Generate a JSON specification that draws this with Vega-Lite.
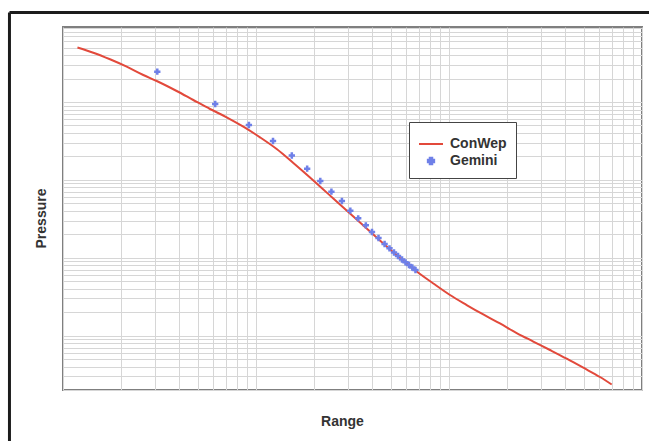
{
  "$schema": "https://vega.github.io/schema/vega-lite/v6.json",
  "width": 579,
  "height": 363,
  "autosize": {"type": "none"},
  "padding": {"left": 63, "top": 27, "right": 7, "bottom": 51},
  "background": "white",
  "datasets": {
    "conwep": [
      {"series": "ConWep", "range": 1.188, "pressure": 5018},
      {"series": "ConWep", "range": 1.436, "pressure": 4303},
      {"series": "ConWep", "range": 1.752, "pressure": 3540},
      {"series": "ConWep", "range": 2.138, "pressure": 2844},
      {"series": "ConWep", "range": 2.607, "pressure": 2224},
      {"series": "ConWep", "range": 3.059, "pressure": 1862},
      {"series": "ConWep", "range": 3.882, "pressure": 1386},
      {"series": "ConWep", "range": 4.733, "pressure": 1062},
      {"series": "ConWep", "range": 5.777, "pressure": 814},
      {"series": "ConWep", "range": 7.048, "pressure": 637},
      {"series": "ConWep", "range": 8.597, "pressure": 482},
      {"series": "ConWep", "range": 10.49, "pressure": 352},
      {"series": "ConWep", "range": 12.8, "pressure": 249},
      {"series": "ConWep", "range": 15.61, "pressure": 164.8},
      {"series": "ConWep", "range": 19.05, "pressure": 107.3},
      {"series": "ConWep", "range": 21.46, "pressure": 82.2},
      {"series": "ConWep", "range": 25.15, "pressure": 57.7},
      {"series": "ConWep", "range": 30.69, "pressure": 37.0},
      {"series": "ConWep", "range": 37.46, "pressure": 23.74},
      {"series": "ConWep", "range": 45.66, "pressure": 15.23},
      {"series": "ConWep", "range": 55.72, "pressure": 9.92},
      {"series": "ConWep", "range": 68.02, "pressure": 6.66},
      {"series": "ConWep", "range": 82.94, "pressure": 4.67},
      {"series": "ConWep", "range": 101.2, "pressure": 3.32},
      {"series": "ConWep", "range": 123.5, "pressure": 2.47},
      {"series": "ConWep", "range": 150.5, "pressure": 1.866},
      {"series": "ConWep", "range": 183.7, "pressure": 1.43},
      {"series": "ConWep", "range": 224.3, "pressure": 1.079},
      {"series": "ConWep", "range": 273.4, "pressure": 0.839},
      {"series": "ConWep", "range": 333.6, "pressure": 0.653},
      {"series": "ConWep", "range": 407.4, "pressure": 0.505},
      {"series": "ConWep", "range": 496.5, "pressure": 0.3867},
      {"series": "ConWep", "range": 605.7, "pressure": 0.2938},
      {"series": "ConWep", "range": 696.6, "pressure": 0.2353}
    ],
    "gemini": [
      {"series": "Gemini", "range": 3.08, "pressure": 2453},
      {"series": "Gemini", "range": 6.146, "pressure": 943.6},
      {"series": "Gemini", "range": 9.189, "pressure": 507},
      {"series": "Gemini", "range": 12.25, "pressure": 315.8},
      {"series": "Gemini", "range": 15.33, "pressure": 205.6},
      {"series": "Gemini", "range": 18.41, "pressure": 139.2},
      {"series": "Gemini", "range": 21.53, "pressure": 96.8},
      {"series": "Gemini", "range": 24.59, "pressure": 70.5},
      {"series": "Gemini", "range": 27.87, "pressure": 53.5},
      {"series": "Gemini", "range": 30.81, "pressure": 40.2},
      {"series": "Gemini", "range": 33.85, "pressure": 32.1},
      {"series": "Gemini", "range": 37.07, "pressure": 26.1},
      {"series": "Gemini", "range": 39.9, "pressure": 21.4},
      {"series": "Gemini", "range": 43.12, "pressure": 17.93},
      {"series": "Gemini", "range": 46.38, "pressure": 15.01},
      {"series": "Gemini", "range": 49.17, "pressure": 13.21},
      {"series": "Gemini", "range": 51.88, "pressure": 11.67},
      {"series": "Gemini", "range": 54.43, "pressure": 10.53},
      {"series": "Gemini", "range": 57.08, "pressure": 9.49},
      {"series": "Gemini", "range": 59.51, "pressure": 8.73},
      {"series": "Gemini", "range": 62.04, "pressure": 8.07},
      {"series": "Gemini", "range": 64.55, "pressure": 7.49},
      {"series": "Gemini", "range": 67.04, "pressure": 6.96}
    ]
  },
  "config": {
    "view": {"stroke": "#7f7f7f", "strokeWidth": 2},
    "axis": {
      "labels": false,
      "ticks": false,
      "domain": false,
      "grid": true,
      "gridColor": "#d6d6d6",
      "gridWidth": 1,
      "gridOpacity": 1,
      "titleFont": "Liberation Sans",
      "titleFontSize": 14,
      "titleFontWeight": "bold",
      "titleColor": "#333333"
    },
    "legend": {
      "labelFont": "Liberation Sans",
      "labelFontSize": 14,
      "labelFontWeight": "bold",
      "labelColor": "#333333"
    }
  },
  "layer": [
    {
      "data": {"name": "conwep"},
      "mark": {"type": "line", "strokeWidth": 2, "interpolate": "monotone"},
      "encoding": {
        "x": {
          "field": "range",
          "type": "quantitative",
          "title": "Range",
          "scale": {"type": "log", "domain": [1, 1000], "nice": false},
          "axis": {
            "values": [1,2,3,4,5,6,7,8,9,10,20,30,40,50,60,70,80,90,100,200,300,400,500,600,700,800,900,1000],
            "titlePadding": 24,
            "titleX": 279
          }
        },
        "y": {
          "field": "pressure",
          "type": "quantitative",
          "title": "Pressure",
          "scale": {"type": "log", "domain": [0.2, 9200], "nice": false},
          "axis": {
            "values": [0.2,0.3,0.4,0.5,0.6,0.7,0.8,0.9,1,2,3,4,5,6,7,8,9,10,20,30,40,50,60,70,80,90,100,200,300,400,500,600,700,800,900,1000,2000,3000,4000,5000,6000,7000,8000,9000],
            "titlePadding": 15,
            "titleY": 191
          }
        },
        "color": {
          "field": "series",
          "type": "nominal",
          "scale": {"domain": ["ConWep", "Gemini"], "range": ["#e2493b", "#6f80e8"]},
          "legend": {
            "orient": "none",
            "legendX": 346,
            "legendY": 95,
            "title": null,
            "strokeColor": "#444444",
            "fillColor": "white",
            "padding": 9,
            "labelOffset": 6,
            "rowPadding": 2,
            "symbolStrokeWidth": 2,
            "encode": {
              "symbols": {
                "update": {
                  "stroke": {"signal": "datum.value === 'Gemini' ? 'transparent' : scale('color', datum.value)"},
                  "strokeWidth": {"value": 2}
                }
              }
            }
          }
        }
      }
    },
    {
      "data": {"name": "gemini"},
      "mark": {"type": "point", "filled": true, "opacity": 1},
      "encoding": {
        "x": {"field": "range", "type": "quantitative"},
        "y": {"field": "pressure", "type": "quantitative"},
        "color": {"field": "series", "type": "nominal"},
        "shape": {
          "field": "series",
          "type": "nominal",
          "scale": {"domain": ["ConWep", "Gemini"], "range": ["stroke", "cross"]}
        },
        "size": {
          "field": "series",
          "type": "nominal",
          "scale": {"domain": ["ConWep", "Gemini"], "range": [576, 40]}
        }
      }
    },
    {
      "data": {"values": [{}]},
      "mark": {"type": "rule", "color": "#1c1c1c", "strokeWidth": 3, "clip": false},
      "encoding": {
        "x": {"datum": 0.528, "type": "quantitative"},
        "y": {"datum": 14125, "type": "quantitative"},
        "y2": {"datum": 0.001}
      }
    },
    {
      "data": {"values": [{}]},
      "mark": {"type": "rule", "color": "#1c1c1c", "strokeWidth": 3, "clip": false},
      "encoding": {
        "x": {"datum": 0.528, "type": "quantitative"},
        "x2": {"datum": 100000},
        "y": {"datum": 14125, "type": "quantitative"}
      }
    }
  ]
}
